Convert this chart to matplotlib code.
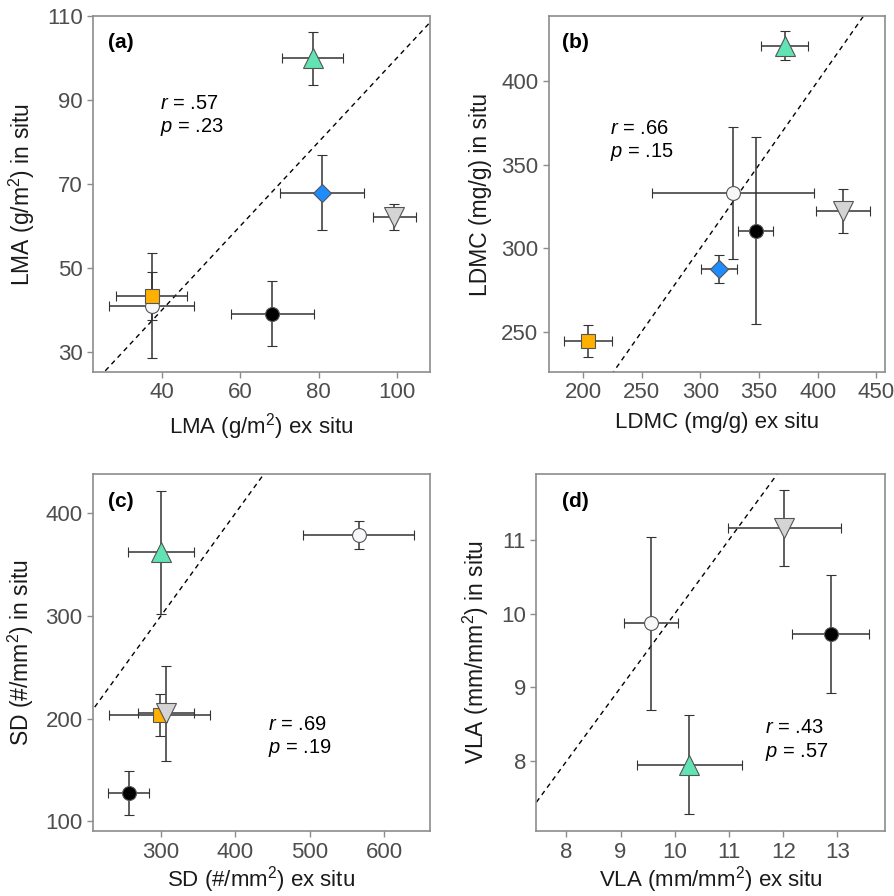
import matplotlib.pyplot as plt

plt.rcParams['font.family'] = ['Liberation Sans', 'DejaVu Sans']
plt.rcParams['mathtext.fontset'] = 'custom'
plt.rcParams['mathtext.rm'] = 'Liberation Sans'
plt.rcParams['mathtext.it'] = 'Liberation Sans:italic'

# species styles (drawing order matters for overlaps)
species = ['black', 'white', 'orange', 'blue', 'green', 'grey']
markers = {'black': 'o', 'white': 'o', 'orange': 's', 'blue': 'D', 'green': '^', 'grey': 'v'}
colors = {'black': '#000000', 'white': '#f7f7fa', 'orange': '#ffb000',
          'blue': '#1e8cff', 'green': '#62e3b4', 'grey': '#d4d4d4'}
sizes = {'o': 10, 's': 9.5, 'D': 9.5, '^': 14, 'v': 14}

# (a) LMA: x, xerr, y, yerr
lma_x = {'black': 68.2, 'white': 37.3, 'orange': 37.3, 'blue': 80.9, 'green': 78.5, 'grey': 99.4}
lma_xe = {'black': 10.6, 'white': 10.8, 'orange': 9.0, 'blue': 10.7, 'green': 7.8, 'grey': 5.4}
lma_y = {'black': 39.1, 'white': 41.0, 'orange': 43.3, 'blue': 67.9, 'green': 99.9, 'grey': 62.1}
lma_ye = {'black': 7.8, 'white': 12.5, 'orange': 5.8, 'blue': 9.0, 'green': 6.4, 'grey': 3.1}

# (b) LDMC
ldmc_x = {'black': 347.2, 'white': 327.8, 'orange': 204.5, 'blue': 315.9, 'green': 371.9, 'grey': 421.6}
ldmc_xe = {'black': 15.0, 'white': 69.0, 'orange': 20.6, 'blue': 15.0, 'green': 20.0, 'grey': 23.2}
ldmc_y = {'black': 310.6, 'white': 333.0, 'orange': 244.6, 'blue': 287.6, 'green': 421.2, 'grey': 322.2}
ldmc_ye = {'black': 56.2, 'white': 39.4, 'orange': 9.6, 'blue': 8.2, 'green': 8.7, 'grey': 13.3}

# (c) SD
sd_x = {'black': 257.0, 'white': 566.0, 'orange': 298.7, 'green': 300.0, 'grey': 307.6}
sd_xe = {'black': 27.3, 'white': 74.5, 'orange': 67.6, 'green': 44.3, 'grey': 37.6}
sd_y = {'black': 127.6, 'white': 379.2, 'orange': 203.9, 'green': 362.3, 'grey': 205.5}
sd_ye = {'black': 21.8, 'white': 13.8, 'orange': 20.3, 'green': 60.0, 'grey': 46.3}

# (d) VLA
vla_x = {'black': 12.88, 'white': 9.56, 'green': 10.27, 'grey': 12.02}
vla_xe = {'black': 0.71, 'white': 0.50, 'green': 0.97, 'grey': 1.04}
vla_y = {'black': 9.72, 'white': 9.87, 'green': 7.955, 'grey': 11.16}
vla_ye = {'black': 0.80, 'white': 1.17, 'green': 0.67, 'grey': 0.51}

panels = [
    dict(tag='(a)', x=lma_x, xe=lma_xe, y=lma_y, ye=lma_ye,
         xlim=(22.3, 108.5), ylim=(25.2, 110), xt=[40, 60, 80, 100], yt=[30, 50, 70, 90, 110],
         xl='LMA (g/m$^2$) ex situ', yl='LMA (g/m$^2$) in situ', pad=6,
         stats=('.57', '.23'), spos=(0.2, 0.753), tpos=(0.045, 0.927),
         rect=[0.104, 0.585, 0.377, 0.397]),
    dict(tag='(b)', x=ldmc_x, xe=ldmc_xe, y=ldmc_y, ye=ldmc_ye,
         xlim=(171, 457.4), ylim=(226, 439), xt=[200, 250, 300, 350, 400, 450], yt=[250, 300, 350, 400],
         xl='LDMC (mg/g) ex situ', yl='LDMC (mg/g) in situ', pad=6,
         stats=('.66', '.15'), spos=(0.182, 0.685), tpos=(0.04, 0.927),
         rect=[0.614, 0.585, 0.376, 0.397]),
    dict(tag='(c)', x=sd_x, xe=sd_xe, y=sd_y, ye=sd_ye,
         xlim=(209, 661.4), ylim=(90.3, 438.6), xt=[300, 400, 500, 600], yt=[100, 200, 300, 400],
         xl='SD (#/mm$^2$) ex situ', yl='SD (#/mm$^2$) in situ', pad=1,
         stats=('.69', '.19'), spos=(0.52, 0.298), tpos=(0.045, 0.923),
         rect=[0.104, 0.0722, 0.377, 0.399]),
    dict(tag='(d)', x=vla_x, xe=vla_xe, y=vla_y, ye=vla_ye,
         xlim=(7.447, 13.878), ylim=(7.053, 11.893), xt=[8, 9, 10, 11, 12, 13], yt=[8, 9, 10, 11],
         xl='VLA (mm/mm$^2$) ex situ', yl='VLA (mm/mm$^2$) in situ', pad=1,
         stats=('.43', '.57'), spos=(0.656, 0.289), tpos=(0.074, 0.923),
         rect=[0.600, 0.0722, 0.390, 0.399]),
]

fig = plt.figure(figsize=(8.94, 8.96), dpi=100)

for p in panels:
    ax = fig.add_axes(p['rect'])
    lo = min(p['xlim'][0], p['ylim'][0])
    hi = max(p['xlim'][1], p['ylim'][1])
    ax.plot([lo, hi], [lo, hi], ls=(0, (3.5, 3)), color='k', lw=1, zorder=1)
    for s in species:
        if s not in p['x']:
            continue
        ax.errorbar(p['x'][s], p['y'][s], xerr=p['xe'][s], yerr=p['ye'][s],
                    fmt=markers[s], ms=sizes[markers[s]], mfc=colors[s], mec='#555555', mew=0.8,
                    ecolor='#333333', elinewidth=1.1, capsize=3.5, capthick=1.1, zorder=2)
    ax.set_xlim(p['xlim'])
    ax.set_ylim(p['ylim'])
    ax.set_xticks(p['xt'])
    ax.set_yticks(p['yt'])
    for sp in ax.spines.values():
        sp.set_color('#8c8c8c')
        sp.set_linewidth(1.2)
    ax.tick_params(colors='#8c8c8c', labelcolor='#4d4d4d', labelsize=16, length=4, width=1)
    ax.set_xlabel(p['xl'], fontsize=16, color='#1a1a1a', labelpad=p['pad'])
    ax.set_ylabel(p['yl'], fontsize=16.5, color='#1a1a1a', labelpad=7)
    ax.text(p['tpos'][0], p['tpos'][1], p['tag'], transform=ax.transAxes,
            fontsize=15, fontweight='bold', va='center', ha='left')
    ax.text(p['spos'][0], p['spos'][1], '$\\it{r}$ = ' + p['stats'][0], transform=ax.transAxes,
            fontsize=14.5, va='center', ha='left')
    ax.text(p['spos'][0], p['spos'][1] - 0.066, '$\\it{p}$ = ' + p['stats'][1], transform=ax.transAxes,
            fontsize=14.5, va='center', ha='left')

fig.savefig('out.png', dpi=100)
